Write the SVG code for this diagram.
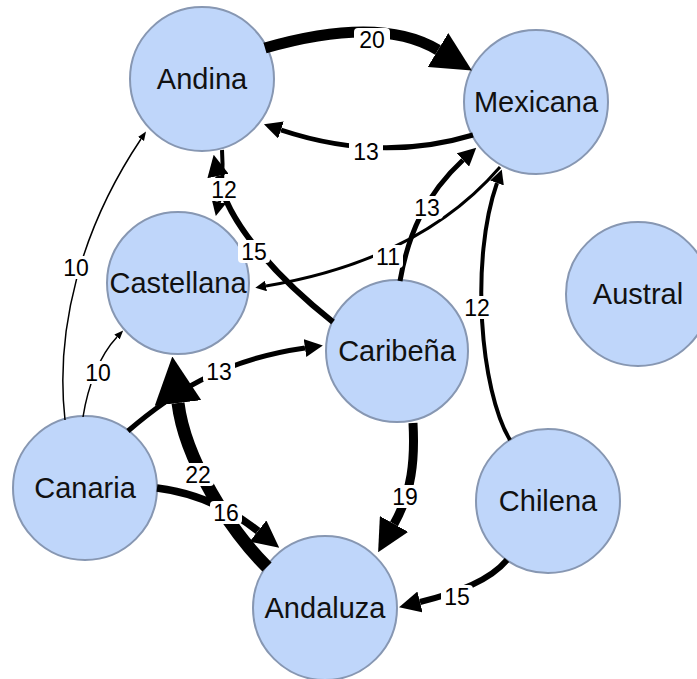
<svg xmlns="http://www.w3.org/2000/svg" width="697" height="679" viewBox="0 0 697 679">
<style>
.node circle{fill:#bfd6fa;stroke:#8797b2;stroke-width:2}
.node text{font-family:"Liberation Sans",Arial,sans-serif;font-size:29px;fill:#111;text-anchor:middle}
.e{fill:none;stroke:#000}
.lb rect{fill:#fff}
.lb text{font-family:"Liberation Sans",Arial,sans-serif;font-size:23px;fill:#000;text-anchor:middle}
</style>
<defs>
<marker id="ah" viewBox="0 0 10 10" refX="0" refY="5" markerWidth="3.6" markerHeight="3.6" orient="auto" markerUnits="strokeWidth"><path d="M0,0 L10,5 L0,10 z" fill="#000"/></marker>
<marker id="aht" viewBox="0 0 10 10" refX="0" refY="5" markerWidth="6" markerHeight="6" orient="auto" markerUnits="strokeWidth"><path d="M0,1 L10,5 L0,9 z" fill="#000"/></marker>
</defs>
<rect width="697" height="679" fill="#fff"/>
<g id="nodes">
<g id="n-andina" class="node"><circle cx="202" cy="79" r="72"/><text x="202" y="89">Andina</text></g>
<g id="n-mexicana" class="node"><circle cx="536" cy="102" r="72"/><text x="536" y="112">Mexicana</text></g>
<g id="n-castellana" class="node"><circle cx="178" cy="283" r="71"/><text x="178" y="293">Castellana</text></g>
<g id="n-caribena" class="node"><circle cx="397" cy="351" r="71"/><text x="397" y="361">Caribeña</text></g>
<g id="n-austral" class="node"><circle cx="638" cy="294" r="72"/><text x="638" y="304">Austral</text></g>
<g id="n-canaria" class="node"><circle cx="85" cy="488" r="72"/><text x="85" y="498">Canaria</text></g>
<g id="n-chilena" class="node"><circle cx="548" cy="501" r="72"/><text x="548" y="511">Chilena</text></g>
<g id="n-andaluza" class="node"><circle cx="325" cy="608" r="72"/><text x="325" y="618">Andaluza</text></g>
</g>
<g id="connectors">
<path class="e" stroke-width="11" marker-end="url(#ah)" d="M265,48 Q380,15 438,50"/>
<path class="e" stroke-width="5" marker-end="url(#ah)" d="M473,135 Q380,163 281,130"/>
<path class="e" stroke-width="6" marker-end="url(#ah)" d="M333,322 C280,280 228,225 218,176"/>
<path class="e" stroke-width="4" marker-end="url(#ah)" d="M222,150 Q224,180 219,202"/>
<path class="e" stroke-width="5" marker-end="url(#ah)" d="M400,281 C408,235 425,195 463,160"/>
<path class="e" stroke-width="3" marker-end="url(#ah)" d="M500,167 Q420,260 266,286"/>
<path class="e" stroke-width="4" marker-end="url(#ah)" d="M510,440 C480,390 470,260 497,183"/>
<path class="e" stroke-width="1.5" marker-end="url(#aht)" d="M65,420 C55,330 80,230 141,139"/>
<path class="e" stroke-width="1.5" marker-end="url(#aht)" d="M83,417 C88,385 100,355 117,337"/>
<path class="e" stroke-width="5" marker-end="url(#ah)" d="M128,431 C170,395 220,360 305,348"/>
<path class="e" stroke-width="13" marker-end="url(#ah)" d="M267,567 C230,530 185,460 178,403"/>
<path class="e" stroke-width="7.5" marker-end="url(#ah)" d="M157,488 C190,492 225,505 258,531"/>
<path class="e" stroke-width="9" marker-end="url(#ah)" d="M413,423 C415,460 412,492 394,524"/>
<path class="e" stroke-width="6" marker-end="url(#ah)" d="M507,560 C490,580 460,592 420,602"/>
<g class="lb"><rect x="354" y="28" width="36" height="23" rx="4"/><text x="372" y="48">20</text></g>
<g class="lb"><rect x="349" y="140" width="34" height="23" rx="4"/><text x="366" y="160">13</text></g>
<g class="lb"><rect x="208" y="178" width="32" height="23" rx="4"/><text x="224" y="198">12</text></g>
<g class="lb"><rect x="238" y="240" width="32" height="23" rx="4"/><text x="254" y="260">15</text></g>
<g class="lb"><rect x="411" y="196" width="32" height="23" rx="4"/><text x="427" y="216">13</text></g>
<g class="lb"><rect x="373" y="245" width="30" height="23" rx="4"/><text x="388" y="265">11</text></g>
<g class="lb"><rect x="462" y="296" width="30" height="23" rx="4"/><text x="477" y="316">12</text></g>
<g class="lb"><rect x="61" y="256" width="30" height="23" rx="4"/><text x="76" y="276">10</text></g>
<g class="lb"><rect x="83" y="361" width="30" height="23" rx="4"/><text x="98" y="381">10</text></g>
<g class="lb"><rect x="203" y="360" width="32" height="23" rx="4"/><text x="219" y="380">13</text></g>
<g class="lb"><rect x="182" y="463" width="32" height="23" rx="4"/><text x="198" y="483">22</text></g>
<g class="lb"><rect x="210" y="501" width="32" height="23" rx="4"/><text x="226" y="521">16</text></g>
<g class="lb"><rect x="390" y="485" width="30" height="23" rx="4"/><text x="405" y="505">19</text></g>
<g class="lb"><rect x="441" y="585" width="32" height="23" rx="4"/><text x="457" y="605">15</text></g>
</g>
</svg>
